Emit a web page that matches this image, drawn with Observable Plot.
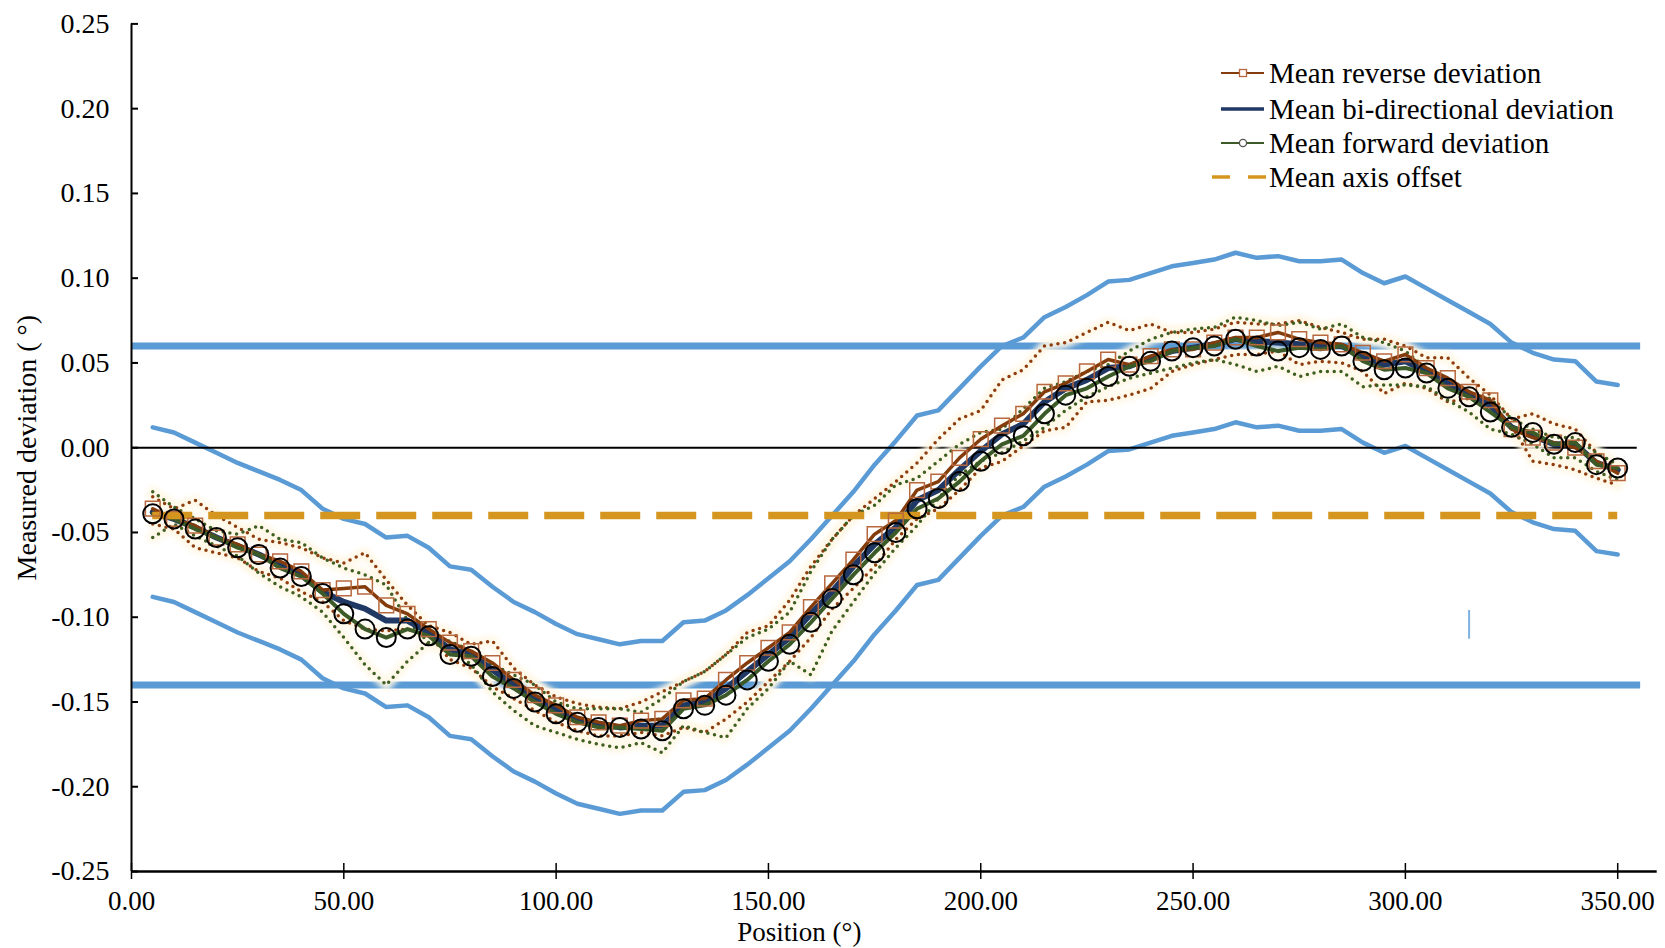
<!DOCTYPE html>
<html><head><meta charset="utf-8">
<script src="https://cdn.jsdelivr.net/npm/d3@7"></script>
<script src="https://cdn.jsdelivr.net/npm/@observablehq/plot@0.6"></script>
<style>
body{margin:0;background:#fff;overflow:hidden;}
#wrap{position:relative;width:1665px;height:948px;}
#legend{position:absolute;left:0;top:0;font-family:"Liberation Serif","Times New Roman",serif;font-size:29px;color:#000;}
.row{position:absolute;height:36px;display:flex;align-items:center;white-space:nowrap;}
.row svg{width:58px;height:36px;flex:none;}
</style></head><body><div id="wrap"><div id="chart"></div><div id="legend"></div></div>
<script>
const position = [5,10,15,20,25,30,35,40,45,50,55,60,65,70,75,80,85,90,95,100,105,110,115,120,125,130,135,140,145,150,155,160,165,170,175,180,185,190,195,200,205,210,215,220,225,230,235,240,245,250,255,260,265,270,275,280,285,290,295,300,305,310,315,320,325,330,335,340,345,350];

const upperLimit = [0.012,0.009,0.003,-0.003,-0.009,-0.014,-0.019,-0.025,-0.036,-0.042,
 -0.045,-0.053,-0.052,-0.059,-0.070,-0.072,-0.082,-0.091,-0.097,-0.104,
 -0.110,-0.113,-0.116,-0.114,-0.114,-0.103,-0.102,-0.096,-0.087,-0.077,
 -0.067,-0.054,-0.040,-0.026,-0.010,0.004,0.019,0.022,0.035,0.048,
 0.060,0.065,0.077,0.083,0.090,0.098,0.099,0.103,0.107,0.109,
 0.111,0.115,0.112,0.113,0.110,0.110,0.111,0.103,0.097,0.101,
 0.094,0.087,0.080,0.073,0.062,0.056,0.052,0.051,0.039,0.037];

const lowerLimit = [-0.088,-0.091,-0.097,-0.103,-0.109,-0.114,-0.119,-0.125,-0.136,-0.142,
 -0.145,-0.153,-0.152,-0.159,-0.170,-0.172,-0.182,-0.191,-0.197,-0.204,
 -0.210,-0.213,-0.216,-0.214,-0.214,-0.203,-0.202,-0.196,-0.187,-0.177,
 -0.167,-0.154,-0.140,-0.126,-0.110,-0.096,-0.081,-0.078,-0.065,-0.052,
 -0.040,-0.035,-0.023,-0.017,-0.010,-0.002,-0.001,0.003,0.007,0.009,
 0.011,0.015,0.012,0.013,0.010,0.010,0.011,0.003,-0.003,0.001,
 -0.006,-0.013,-0.020,-0.027,-0.038,-0.044,-0.048,-0.049,-0.061,-0.063];

const forwardMean = [-0.039,-0.042,-0.048,-0.053,-0.059,-0.063,-0.071,-0.076,-0.086,-0.098,
 -0.107,-0.112,-0.107,-0.111,-0.122,-0.123,-0.135,-0.142,-0.150,-0.157,
 -0.162,-0.165,-0.165,-0.166,-0.167,-0.154,-0.152,-0.146,-0.137,-0.126,
 -0.116,-0.103,-0.089,-0.075,-0.062,-0.050,-0.036,-0.030,-0.020,-0.008,
 0.002,0.007,0.020,0.031,0.035,0.042,0.048,0.051,0.057,0.059,
 0.060,0.064,0.060,0.057,0.059,0.058,0.060,0.051,0.046,0.047,
 0.044,0.035,0.030,0.021,0.012,0.009,0.002,0.003,-0.010,-0.012];

const reverseMean = [-0.036,-0.042,-0.046,-0.053,-0.057,-0.063,-0.067,-0.073,-0.084,-0.083,
 -0.082,-0.093,-0.098,-0.107,-0.115,-0.120,-0.127,-0.137,-0.146,-0.152,
 -0.159,-0.162,-0.164,-0.161,-0.160,-0.149,-0.148,-0.137,-0.127,-0.118,
 -0.109,-0.094,-0.080,-0.066,-0.051,-0.043,-0.025,-0.020,-0.006,0.005,
 0.013,0.020,0.033,0.038,0.045,0.052,0.049,0.054,0.058,0.058,
 0.062,0.065,0.065,0.068,0.064,0.062,0.061,0.056,0.051,0.055,
 0.047,0.041,0.033,0.028,0.011,0.006,0.003,0.000,-0.008,-0.015];

const biMean = [-0.038,-0.042,-0.047,-0.053,-0.058,-0.063,-0.069,-0.075,-0.085,-0.091,
 -0.095,-0.102,-0.102,-0.109,-0.119,-0.122,-0.131,-0.140,-0.148,-0.155,
 -0.161,-0.163,-0.165,-0.164,-0.164,-0.152,-0.150,-0.142,-0.132,-0.122,
 -0.112,-0.098,-0.085,-0.070,-0.057,-0.047,-0.031,-0.025,-0.013,-0.002,
 0.008,0.014,0.027,0.035,0.040,0.047,0.048,0.053,0.057,0.059,
 0.061,0.064,0.063,0.062,0.061,0.060,0.060,0.053,0.049,0.051,
 0.045,0.038,0.031,0.025,0.012,0.007,0.002,0.002,-0.009,-0.013];

const reverseUpper = [-0.029,-0.036,-0.031,-0.040,-0.047,-0.054,-0.056,-0.059,-0.065,-0.068,
 -0.062,-0.078,-0.093,-0.105,-0.109,-0.116,-0.114,-0.130,-0.140,-0.147,
 -0.151,-0.153,-0.154,-0.150,-0.144,-0.138,-0.132,-0.122,-0.109,-0.105,
 -0.090,-0.070,-0.054,-0.040,-0.030,-0.020,-0.009,0.005,0.017,0.022,
 0.040,0.046,0.060,0.062,0.068,0.074,0.069,0.073,0.068,0.068,
 0.070,0.074,0.073,0.073,0.075,0.071,0.068,0.064,0.064,0.060,
 0.053,0.053,0.041,0.031,0.017,0.020,0.014,0.011,-0.003,-0.012];

const reverseLower = [-0.045,-0.048,-0.059,-0.062,-0.065,-0.073,-0.077,-0.085,-0.091,-0.102,
 -0.107,-0.108,-0.107,-0.110,-0.125,-0.130,-0.141,-0.148,-0.155,-0.162,
 -0.167,-0.170,-0.170,-0.168,-0.170,-0.165,-0.168,-0.160,-0.150,-0.138,
 -0.126,-0.112,-0.095,-0.083,-0.070,-0.054,-0.042,-0.036,-0.025,-0.012,
 -0.008,0.001,0.010,0.012,0.027,0.028,0.031,0.035,0.045,0.049,
 0.052,0.055,0.055,0.057,0.049,0.051,0.050,0.045,0.032,0.038,
 0.035,0.027,0.029,0.025,0.013,-0.008,-0.010,-0.013,-0.018,-0.022];

const forwardUpper = [-0.026,-0.035,-0.042,-0.049,-0.051,-0.046,-0.054,-0.056,-0.065,-0.071,
 -0.075,-0.081,-0.102,-0.115,-0.114,-0.120,-0.128,-0.134,-0.140,-0.150,
 -0.154,-0.154,-0.154,-0.156,-0.148,-0.138,-0.132,-0.122,-0.112,-0.107,
 -0.097,-0.073,-0.054,-0.040,-0.034,-0.022,-0.018,-0.008,0.002,0.009,
 0.011,0.023,0.035,0.039,0.045,0.049,0.057,0.064,0.068,0.070,
 0.071,0.077,0.075,0.072,0.074,0.070,0.073,0.065,0.062,0.057,
 0.047,0.037,0.033,0.029,0.017,0.011,0.006,0.006,-0.003,-0.010];

const forwardLower = [-0.053,-0.045,-0.052,-0.058,-0.064,-0.074,-0.082,-0.088,-0.097,-0.112,
 -0.128,-0.140,-0.126,-0.115,-0.118,-0.128,-0.144,-0.155,-0.164,-0.168,
 -0.172,-0.175,-0.177,-0.174,-0.180,-0.164,-0.168,-0.171,-0.154,-0.142,
 -0.126,-0.134,-0.108,-0.091,-0.074,-0.059,-0.046,-0.030,-0.016,-0.008,
 -0.003,0.004,0.012,0.022,0.030,0.036,0.041,0.044,0.047,0.050,
 0.052,0.049,0.045,0.048,0.042,0.045,0.045,0.036,0.037,0.037,
 0.036,0.028,0.021,0.011,0.008,0.002,-0.006,-0.006,-0.014,-0.019];

const toleranceLimits = [0.06, -0.14];
const axisOffset = [-0.04];
const offsetRange = [5, 350];
const limitRange = [0, 355.4];
const strayMarkX = [315];
const strayMarkY = [-0.096, -0.113];
const xTicks = [0, 50, 100, 150, 200, 250, 300, 350];
const yTicks = [-0.25, -0.20, -0.15, -0.10, -0.05, 0.00, 0.05, 0.10, 0.15, 0.20, 0.25];
const xDomain = [0, 359.3];
const yDomain = [-0.25, 0.25];

const legendItems = ["Mean reverse deviation", "Mean bi-directional deviation", "Mean forward deviation", "Mean axis offset"];

const C = {
  blue: "#5B9BD5", gold: "#D4961E", rev: "#843C0C", revMark: "#B8683E",
  bi: "#203864", fwd: "#3B5A28", dotRev: "#8E3D0F", dotFwd: "#3E5E22", glow: "#fff7e6"
};

const series = arr => position.map((p, i) => ({x: p, y: arr[i]}));
const font = "Liberation Serif, Times New Roman, serif";
const dotted = [reverseUpper, reverseLower, forwardUpper, forwardLower];
const dotStyle = {strokeWidth: 3.5, strokeDasharray: "0 6.8", strokeLinecap: "round"};

const marks = [
  Plot.ruleY(toleranceLimits, {x1: limitRange[0], x2: limitRange[1], stroke: C.blue, strokeWidth: 7}),
  Plot.line(series(upperLimit), {x: "x", y: "y", stroke: C.blue, strokeWidth: 4.5}),
  Plot.line(series(lowerLimit), {x: "x", y: "y", stroke: C.blue, strokeWidth: 4.5}),
  Plot.ruleY([0], {x1: 0, x2: 354.6, stroke: "#000", strokeWidth: 2}),
  Plot.ruleX(strayMarkX, {y1: strayMarkY[0], y2: strayMarkY[1], stroke: "#7fb1e0", strokeWidth: 2}),
  ...dotted.map(a => Plot.line(series(a), {x: "x", y: "y", stroke: C.glow, strokeWidth: 11, strokeOpacity: 0.9})),
  Plot.line(series(reverseUpper), {x: "x", y: "y", stroke: C.dotRev, ...dotStyle}),
  Plot.line(series(reverseLower), {x: "x", y: "y", stroke: C.dotRev, ...dotStyle}),
  Plot.line(series(forwardUpper), {x: "x", y: "y", stroke: C.dotFwd, ...dotStyle}),
  Plot.line(series(forwardLower), {x: "x", y: "y", stroke: C.dotFwd, ...dotStyle}),
  Plot.line(series(biMean), {x: "x", y: "y", stroke: C.bi, strokeWidth: 6}),
  Plot.line(series(reverseMean), {x: "x", y: "y", stroke: C.rev, strokeWidth: 3.5}),
  Plot.line(series(forwardMean), {x: "x", y: "y", stroke: C.fwd, strokeWidth: 4}),
  Plot.ruleY(axisOffset, {x1: offsetRange[0], x2: offsetRange[1], stroke: C.gold, strokeWidth: 7.5, strokeDasharray: "40 16"}),
  Plot.dot(series(reverseMean), {x: "x", y: "y", symbol: "square", r: 8.3, stroke: C.revMark, strokeWidth: 1.5, fill: "none"}),
  Plot.dot(series(forwardMean), {x: "x", y: "y", r: 9.5, stroke: "#000", strokeWidth: 2, fill: "none"}),
  Plot.ruleX([0], {stroke: "#000", strokeWidth: 2}),
  Plot.ruleY([-0.25], {x1: xDomain[0], x2: xDomain[1], stroke: "#000", strokeWidth: 2.5}),
  Plot.ruleY(yTicks, {x1: 0, x2: 0, insetRight: -7, stroke: "#000", strokeWidth: 2}),
  Plot.ruleX(xTicks, {y1: -0.25, y2: -0.25, insetTop: -8, insetBottom: -8, stroke: "#000", strokeWidth: 1.5}),
  Plot.axisY({ticks: yTicks, tickFormat: d => d.toFixed(2), tickSize: 0, tickPadding: 22, label: null, fontSize: 28, fontFamily: font}),
  Plot.axisX({ticks: xTicks, tickFormat: d => d.toFixed(2), tickSize: 0, tickPadding: 19, label: null, fontSize: 27, fontFamily: font}),
  Plot.text(["Measured deviation ( °)"], {frameAnchor: "left", dx: -104, rotate: -90, textAnchor: "middle", lineAnchor: "middle", fontSize: 28, fontFamily: font, fill: "#000"}),
  Plot.text(["Position (°)"], {frameAnchor: "bottom", dx: -95, dy: 61, textAnchor: "middle", lineAnchor: "middle", fontSize: 27, fontFamily: font, fill: "#000"})
];

const chart = Plot.plot({
  width: 1665, height: 948,
  marginLeft: 131, marginRight: 8.3, marginTop: 23.4, marginBottom: 77,
  x: {domain: xDomain},
  y: {domain: yDomain},
  style: {fontFamily: font, fontSize: "28px", color: "#000", background: "#fff"},
  marks
});
document.getElementById("chart").appendChild(chart);
chart.querySelectorAll('[stroke="' + C.glow + '"]').forEach(e => e.style.filter = "blur(2.5px)");

const lg = document.getElementById("legend");
const rowsY = [73, 109, 143, 177];
const swatches = [
  `<line x1="6" y1="18" x2="49" y2="18" stroke="${C.rev}" stroke-width="2.2"/><rect x="24.5" y="14.5" width="7" height="7" fill="#fff" stroke="${C.revMark}" stroke-width="1.3"/>`,
  `<line x1="6" y1="18" x2="49" y2="18" stroke="${C.bi}" stroke-width="3.5"/>`,
  `<line x1="6" y1="18" x2="49" y2="18" stroke="${C.fwd}" stroke-width="2.2"/><circle cx="28" cy="18" r="3.6" fill="#fff" stroke="#555" stroke-width="1.3"/>`,
  `<line x1="-3" y1="18" x2="15" y2="18" stroke="${C.gold}" stroke-width="3.5"/><line x1="33" y1="18" x2="51" y2="18" stroke="${C.gold}" stroke-width="3.5"/>`
];
legendItems.forEach((t, i) => {
  const r = document.createElement("div");
  r.className = "row";
  r.style.left = "1215px";
  r.style.top = (rowsY[i] - 18) + "px";
  r.innerHTML = `<svg viewBox="0 0 58 36" overflow="visible">${swatches[i]}</svg><span style="margin-left:-4px">${t}</span>`;
  lg.appendChild(r);
});
</script>
</body></html>
